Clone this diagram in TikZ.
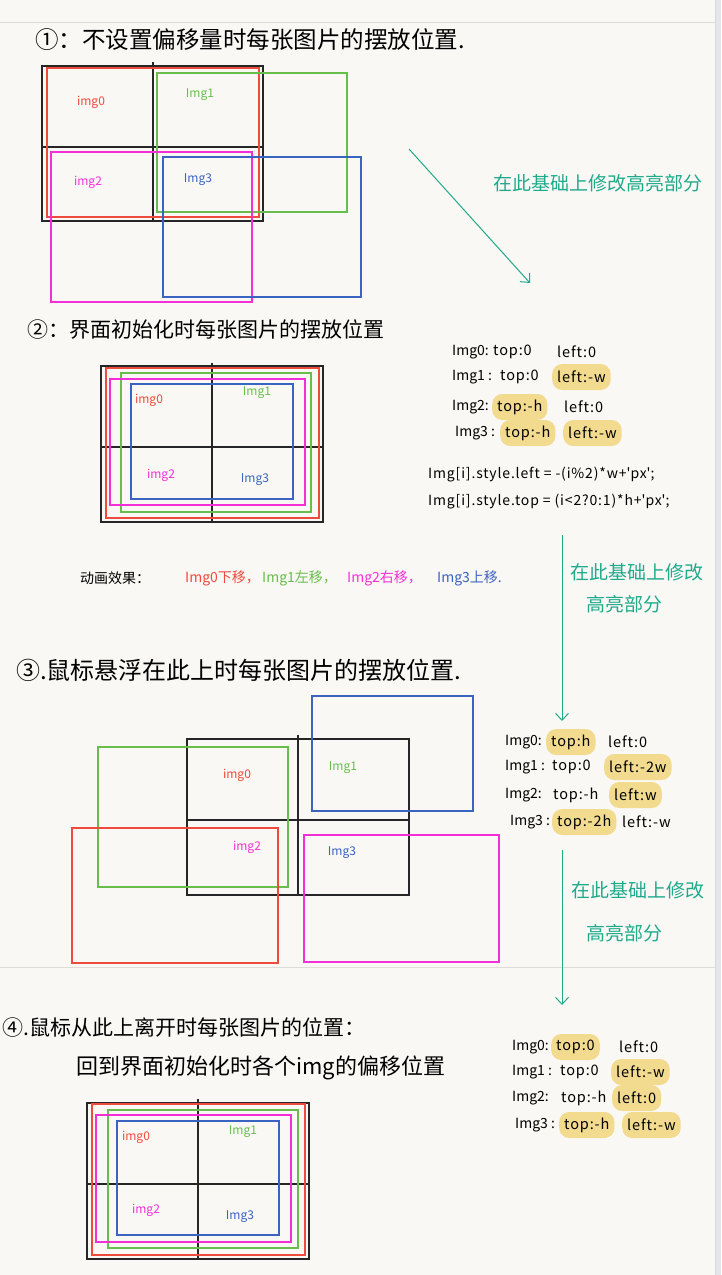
\documentclass[tikz,border=0pt]{standalone}
\usepackage{fontspec}
\setmainfont{Noto Sans CJK SC}
\newfontfamily\spacedfont[LetterSpace=6]{Noto Sans CJK SC}
\usetikzlibrary{arrows.meta}
\definecolor{paper}{HTML}{F9F8F4}
\definecolor{imgred}{HTML}{EE4B3C}
\definecolor{imggreen}{HTML}{68BE4C}
\definecolor{imgpink}{HTML}{F42FD8}
\definecolor{imgblue}{HTML}{3A63C2}
\definecolor{noteteal}{HTML}{1FAA8C}
\definecolor{hlyellow}{HTML}{F2DB8E}
\definecolor{ruleline}{HTML}{DEDCD7}
\definecolor{pageedge}{HTML}{E3E7EC}
\newcommand\qt{\textquotesingle}
\tikzset{
  frame/.style={draw=black!85, line width=1.4pt},
  redbox/.style={draw=imgred, line width=1.3pt},
  greenbox/.style={draw=imggreen, line width=1.3pt},
  pinkbox/.style={draw=imgpink, line width=1.3pt},
  bluebox/.style={draw=imgblue, line width=1.3pt},
  title/.style={anchor=west, inner sep=0pt},
  lbl/.style={inner sep=0pt, font=\fontsize{12}{13}\selectfont},
  note/.style={inner sep=0pt, text=noteteal, font=\fontsize{19}{21}\selectfont},
  imgname/.style={anchor=west, inner sep=0pt, font=\fontsize{14}{15}\selectfont},
  cell/.style={anchor=west, inner sep=0pt, font=\spacedfont\fontsize{14.5}{16}\selectfont},
  hlcell/.style={cell, fill=hlyellow, rounded corners=10pt, inner xsep=5pt,
    minimum height=26pt},
  code/.style={anchor=west, inner sep=0pt, font=\spacedfont\fontsize{14}{15}\selectfont},
  anim/.style={anchor=west, inner sep=0pt, font=\fontsize{14}{15}\selectfont},
  noteline/.style={draw=noteteal, line width=1pt}
}
\begin{document}
\begin{tikzpicture}[x=1pt, y=-1pt, >={Straight Barb[length=7pt,width=13pt]}]
    \fill[paper] (0,0) rectangle (721,1275);
    \useasboundingbox (0,0) rectangle (721,1275);
    \fill[pageedge] (715,0) rectangle (721,1275);
    \draw[black!15] (715,0) -- (715,1275);
    \draw[ruleline] (0,22) -- (715,22);
    \draw[ruleline] (0,967) -- (715,967);

    % 1
    \node[title, font=\fontsize{23.5}{26}\selectfont] (t1) at (35,40) {①：不设置偏移量时每张图片的摆放位置.};
    \draw[frame] (42,66) rectangle (263,221);
    \draw[frame] (153,62) -- (153,221);
    \draw[frame] (42,147) -- (263,147);
    \draw[redbox] (47,68) rectangle (259,217);
    \draw[greenbox] (157,73) rectangle (347,212);
    \draw[pinkbox] (51,152) rectangle (252,302);
    \draw[bluebox] (163,157) rectangle (361,297);
    \node[lbl, text=imgred] (a0) at (91,102) {img0};
    \node[lbl, text=imggreen] (a1) at (200,95) {Img1};
    \node[lbl, text=imgpink] (a2) at (88,182) {img2};
    \node[lbl, text=imgblue] (a3) at (198,180) {Img3};
    \coordinate (s1) at (409,149);
    \coordinate (e1) at (530,283);
    \draw[noteline, ->] (s1) -- (e1);
    \node[note] (n1) at (598,183) {在此基础上修改高亮部分};

    % 2
    \node[title, font=\fontsize{21}{24}\selectfont] (t2) at (27,330) {②：界面初始化时每张图片的摆放位置};
    \draw[frame] (101,366) rectangle (323,522);
    \draw[frame] (212,363) -- (212,522);
    \draw[frame] (101,447) -- (323,447);
    \draw[redbox] (106,368) rectangle (319,518);
    \draw[greenbox] (121,373) rectangle (311,512);
    \draw[pinkbox] (110,379) rectangle (305,505);
    \draw[bluebox] (131,384) rectangle (293,499);
    \node[lbl, text=imgred] (b0) at (149,400) {img0};
    \node[lbl, text=imggreen] (b1) at (257,393) {Img1};
    \node[lbl, text=imgpink] (b2) at (161,475) {img2};
    \node[lbl, text=imgblue] (b3) at (255,480) {Img3};

    \node[imgname] (p0) at (452,352) {Img0:};
    \node[cell] (p0t) at (493,352) {top:0};
    \node[cell] (p0l) at (557,352) {left:0};
    \node[imgname] (p1) at (452,377) {Img1 :};
    \node[cell] (p1t) at (500,377) {top:0};
    \node[hlcell] (p1l) at (552,377) {left:-w};
    \node[imgname] (p2) at (452,407) {Img2:};
    \node[hlcell] (p2t) at (492,407) {top:-h};
    \node[cell] (p2l) at (564,407) {left:0};
    \node[imgname] (p3) at (455,433) {Img3 :};
    \node[hlcell] (p3t) at (500,433) {top:-h};
    \node[hlcell] (p3l) at (563,433) {left:-w};
    \node[code] (c1) at (428,475) {Img[i].style.left = -(i\%2)*w+\qt px\qt;};
    \node[code] (c2) at (428,502) {Img[i].style.top = (i<2?0:1)*h+\qt px\qt;};

    \node[anim] (m0) at (80,578) {动画效果：};
    \node[anim, text=imgred] (m1) at (185,578) {Img0下移，};
    \node[anim, text=imggreen] (m2) at (262,578) {Img1左移，};
    \node[anim, text=imgpink] (m3) at (347,578) {Img2右移，};
    \node[anim, text=imgblue] (m4) at (437,578) {Img3上移.};

    \coordinate (s2) at (562,535);
    \coordinate (e2) at (562,721);
    \draw[noteline, ->] (s2) -- (e2);
    \node[note] (n2a) at (637,572) {在此基础上修改};
    \node[note] (n2b) at (624,604) {高亮部分};

    % 3
    \node[title, font=\fontsize{24}{27}\selectfont] (t3) at (16,670) {③.鼠标悬浮在此上时每张图片的摆放位置.};
    \draw[frame] (187,739) rectangle (409,895);
    \draw[frame] (298,735) -- (298,895);
    \draw[frame] (187,820) -- (409,820);
    \draw[bluebox] (312,696) rectangle (473,811);
    \draw[greenbox] (98,747) rectangle (288,887);
    \draw[redbox] (72,828) rectangle (278,963);
    \draw[pinkbox] (304,835) rectangle (499,962);
    \node[lbl, text=imgred] (d0) at (237,775) {img0};
    \node[lbl, text=imggreen] (d1) at (343,768) {Img1};
    \node[lbl, text=imgpink] (d2) at (247,847) {img2};
    \node[lbl, text=imgblue] (d3) at (342,853) {Img3};

    \node[imgname] (q0) at (505,742) {Img0:};
    \node[hlcell] (q0t) at (546,742) {top:h};
    \node[cell] (q0l) at (608,742) {left:0};
    \node[imgname] (q1) at (505,767) {Img1 :};
    \node[cell] (q1t) at (552,767) {top:0};
    \node[hlcell] (q1l) at (604,767) {left:-2w};
    \node[imgname] (q2) at (505,795) {Img2:};
    \node[cell] (q2t) at (553,795) {top:-h};
    \node[hlcell] (q2l) at (609,795) {left:w};
    \node[imgname] (q3) at (510,822) {Img3 :};
    \node[hlcell] (q3t) at (552,822) {top:-2h};
    \node[cell] (q3l) at (622,822) {left:-w};

    \coordinate (s3) at (562,850);
    \coordinate (e3) at (562,1005);
    \draw[noteline, ->] (s3) -- (e3);
    \node[note] (n3a) at (638,890) {在此基础上修改};
    \node[note] (n3b) at (624,933) {高亮部分};

    % 4
    \node[title, font=\fontsize{21}{24}\selectfont] (t4) at (2,1027) {④.鼠标从此上离开时每张图片的位置：};
    \node[title, font=\fontsize{22}{25}\selectfont] (t4b) at (76,1068) {回到界面初始化时各个img的偏移位置};
    \draw[frame] (87,1103) rectangle (309,1259);
    \draw[frame] (198,1099) -- (198,1259);
    \draw[frame] (87,1184) -- (309,1184);
    \draw[redbox] (92,1104) rectangle (305,1255);
    \draw[greenbox] (108,1110) rectangle (298,1248);
    \draw[pinkbox] (96,1115) rectangle (291,1242);
    \draw[bluebox] (117,1121) rectangle (279,1235);
    \node[lbl, text=imgred] (f0) at (136,1137) {img0};
    \node[lbl, text=imggreen] (f1) at (243,1132) {Img1};
    \node[lbl, text=imgpink] (f2) at (146,1210) {img2};
    \node[lbl, text=imgblue] (f3) at (240,1217) {Img3};

    \node[imgname] (r0) at (512,1047) {Img0:};
    \node[hlcell] (r0t) at (551,1047) {top:0};
    \node[cell] (r0l) at (619,1047) {left:0};
    \node[imgname] (r1) at (512,1072) {Img1 :};
    \node[cell] (r1t) at (560,1072) {top:0};
    \node[hlcell] (r1l) at (611,1072) {left:-w};
    \node[imgname] (r2) at (512,1098) {Img2:};
    \node[cell] (r2t) at (561,1098) {top:-h};
    \node[hlcell] (r2l) at (612,1098) {left:0};
    \node[imgname] (r3) at (515,1125) {Img3 :};
    \node[hlcell] (r3t) at (559,1125) {top:-h};
    \node[hlcell] (r3l) at (622,1125) {left:-w};
\end{tikzpicture}
\end{document}
